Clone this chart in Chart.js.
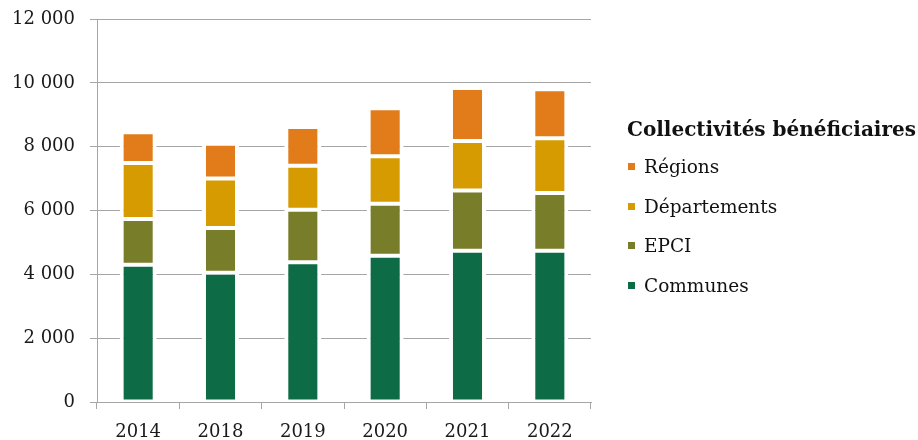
<!DOCTYPE html>
<html><head><meta charset="utf-8">
<script src="https://cdn.jsdelivr.net/npm/chart.js@4.4.1/dist/chart.umd.min.js"></script>
<style>
html,body{margin:0;padding:0;background:#fff;}
#wrap{position:relative;width:918px;height:440px;overflow:hidden;}
#legend{position:absolute;left:627px;top:111px;font-family:'DejaVu Serif',serif;color:#111;}
#legend .title{font-weight:bold;font-size:20px;height:36px;line-height:36px;white-space:nowrap;}
#legend .item{height:39.5px;display:flex;align-items:center;font-size:18.5px;white-space:nowrap;}
#legend .box{width:7px;height:7px;margin-right:9px;margin-left:1px;}
</style></head><body>
<div id="wrap"><canvas id="c" width="918" height="440"></canvas><div id="legend"></div></div>
<script>
const categories = ['2014','2018','2019','2020','2021','2022'];
const communes = [4300,4050,4380,4580,4740,4740];
const epci = [1430,1400,1640,1630,1890,1810];
const departements = [1760,1550,1380,1490,1550,1710];
const regions = [960,1090,1220,1500,1660,1540];
const seriesNames = ['Communes','EPCI','Départements','Régions'];
const seriesColors = ['#0d6b45','#777d28','#d69b00','#e27b1a'];
const legendTitle = 'Collectivités bénéficiaires';
const yMin = 0, yMax = 12000, yStep = 2000;

const fmt = v => String(v).replace(/\B(?=(\d{3})+(?!\d))/g, ' ');
const gridColor = '#a6a6a6';
const font = {family:'DejaVu Serif', size:18};

const values = [communes, epci, departements, regions];
const datasets = values.map((d,i)=>({
  label: seriesNames[i],
  data: d,
  backgroundColor: seriesColors[i],
  borderColor: '#ffffff',
  borderWidth: {left:4,right:4,top:2,bottom:2},
  borderSkipped: false,
  categoryPercentage: 1,
  barPercentage: 0.45
}));

const chart = new Chart(document.getElementById('c'), {
  type: 'bar',
  data: {labels: categories, datasets},
  options: {
    responsive: false,
    animation: false,
    devicePixelRatio: 1,
    layout: {padding: {top: 19, right: 327, left: 0, bottom: 0}},
    plugins: {legend: {display: false}, tooltip: {enabled: false}},
    scales: {
      x: {
        stacked: true,
        offset: true,
        grid: {display: true, drawOnChartArea: false, color: gridColor, tickLength: 7, offset: true},
        border: {color: gridColor, width: 1},
        ticks: {font, color: '#1a1a1a', padding: 13},
        afterFit: s => { s.height = 38; s.paddingLeft = 0; s.paddingRight = 0; }
      },
      y: {
        stacked: true,
        min: yMin, max: yMax,
        ticks: {stepSize: yStep, font, color: '#1a1a1a', padding: 15, callback: v => fmt(v)},
        grid: {color: gridColor, lineWidth: 1, tickLength: 7},
        border: {color: gridColor, width: 1},
        afterFit: s => { s.width = 97; s.paddingTop = 0; s.paddingBottom = 0; }
      }
    }
  }
});

// HTML legend built from the chart's datasets (reverse order, like the reference)
const lg = document.getElementById('legend');
const t = document.createElement('div'); t.className='title'; t.textContent = legendTitle; lg.appendChild(t);
chart.data.datasets.slice().reverse().forEach(ds=>{
  const it = document.createElement('div'); it.className='item';
  const b = document.createElement('span'); b.className='box'; b.style.background = ds.backgroundColor;
  const tx = document.createElement('span'); tx.textContent = ds.label;
  it.appendChild(b); it.appendChild(tx); lg.appendChild(it);
});
</script>
</body></html>
